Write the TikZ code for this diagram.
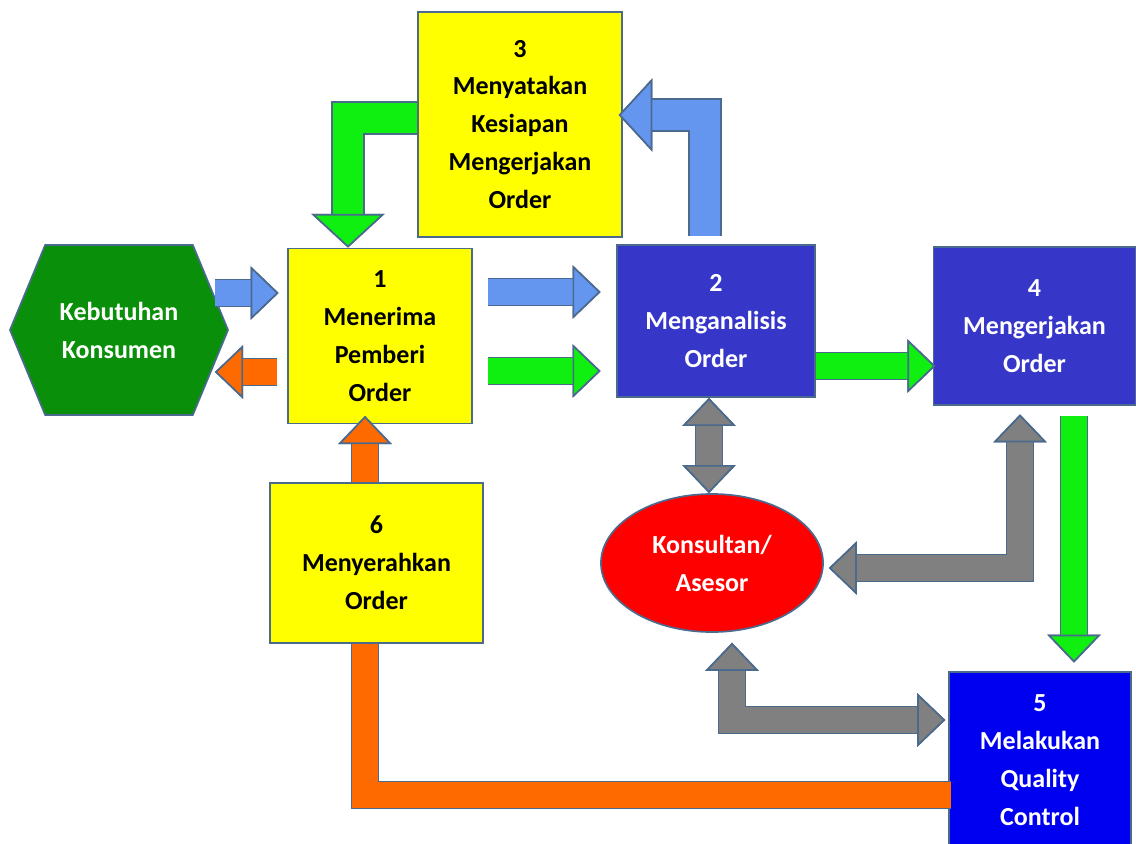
\documentclass[tikz,border=0pt]{standalone}
\usepackage{fontspec}
\setmainfont{Carlito}
\usetikzlibrary{arrows.meta,shapes.symbols,shapes.geometric}
\definecolor{rim}{HTML}{4A6A8E}
\definecolor{boxyellow}{HTML}{FFFF00}
\definecolor{hexgreen}{HTML}{0A8F0A}
\definecolor{darkblue}{HTML}{3636C8}
\definecolor{brightblue}{HTML}{0000F0}
\definecolor{arrblue}{HTML}{6496F0}
\definecolor{arrgreen}{HTML}{10F010}
\definecolor{arrgray}{HTML}{808080}
\definecolor{arrorange}{HTML}{FF6A00}
\tikzset{
  box/.style={draw=rim, line width=1.2pt, align=center, inner sep=0pt,
    font=\fontsize{18.5}{27}\selectfont\bfseries},
  yellowbox/.style={box, fill=boxyellow, text=black},
  bluebox/.style={box, fill=#1, text=white},
  pipe/.style={draw=#1, line width=18pt, line join=miter,
    arrows={-Triangle[length=20pt,width=38pt,line width=1.2pt,color=rim,fill=#1]},
    preaction={draw=rim, line width=20.4pt,
      arrows={-Triangle[length=20pt,width=38pt,line width=1.2pt]}}},
  pipeboth/.style={draw=#1, line width=18pt, line join=miter,
    arrows={Triangle[length=20pt,width=38pt,line width=1.2pt,color=rim,fill=#1]-Triangle[length=20pt,width=38pt,line width=1.2pt,color=rim,fill=#1]},
    preaction={draw=rim, line width=20.4pt,
      arrows={Triangle[length=20pt,width=38pt,line width=1.2pt]-Triangle[length=20pt,width=38pt,line width=1.2pt]}}},
  widepipe/.style={draw=#1, line width=22pt, line join=miter,
    arrows={-Triangle[length=24pt,width=52pt,line width=1.2pt,color=rim,fill=#1]},
    preaction={draw=rim, line width=24.4pt,
      arrows={-Triangle[length=24pt,width=52pt,line width=1.2pt]}}}
}

\begin{document}
\begin{tikzpicture}[x=0.025cm, y=-0.025cm]
  \useasboundingbox (0,0) rectangle (1136,843);
  \fill[white] (0,0) rectangle (1136,843);

  \node[box, signal, signal to=west and east, signal pointer angle=135, fill=hexgreen, text=white,
        minimum width=5.45cm, minimum height=4.25cm] (kons) at (119,330) {Kebutuhan\\Konsumen};
  \node[yellowbox, minimum width=4.6cm, minimum height=4.375cm] (b1) at (380,336)
       {1\\\textcolor{black}{M}enerima\\Pemberi\\Order};
  \node[yellowbox, minimum width=5.1cm, minimum height=5.625cm] (b3) at (520,124.5)
       {3\\\textcolor{black}{M}enyatakan\\Kesiapan\\Mengerjakan\\Order};
  \node[bluebox=darkblue, minimum width=4.95cm, minimum height=3.8cm] (b2) at (716,321)
       {2\\Menganalisis\\Order};
  \node[bluebox=darkblue, minimum width=5.05cm, minimum height=3.95cm] (b4) at (1034.5,326)
       {4\\Mengerjakan\\Order};
  \node[bluebox=brightblue, minimum width=4.55cm, minimum height=4.4cm] (b5) at (1040,760)
       {5\\Melakukan\\Quality\\Control};
  \node[box, ellipse, fill=red, text=white, minimum width=5.55cm, minimum height=3.45cm] (kon) at (712,563)
       {Konsultan/\\Asesor};

  \draw[pipe=arrblue, shorten <=-10pt, shorten >=6pt] (kons.east |- 0,293) -- (b1.west |- 0,293);
  \draw[pipe=arrorange, shorten <=7pt, shorten >=-10pt] (b1.west |- 0,372) -- (kons.east |- 0,372);
  \draw[pipe=arrblue, shorten <=11pt, shorten >=11pt] (b1.east |- 0,292) -- (b2.west |- 0,292);
  \draw[pipe=arrgreen, shorten <=11pt, shorten >=11pt] (b1.east |- 0,371) -- (b2.west |- 0,371);
  \draw[pipe=arrgreen, shorten >=-2pt] (b2.east |- 0,366) -- (b4.west |- 0,366);
  \draw[pipe=arrgreen, shorten <=7pt, shorten >=6pt] (1074,0 |- b4.south) -- (1074,0 |- b5.north);
  \draw[widepipe=arrgreen] (b3.west |- 0,118) -| (348,0 |- b1.north);
  \draw[widepipe=arrblue, shorten <=6pt, shorten >=-3pt] (705,0 |- b2.north) |- (b3.east |- 0,115);
  \draw[pipeboth=arrgray] (709,0 |- b2.south) -- (709,0 |- kon.north);
  \draw[pipeboth=arrgray, shorten <=6pt, shorten >=3.5pt] (1020,0 |- b4.south) |- (kon.east |- 0,568);
  \draw[pipeboth=arrgray, shorten <=7pt, shorten >=2pt] (732,0 |- kon.south) |- (b5.west |- 0,720);
  \draw[pipe=arrorange, shorten <=-2pt, shorten >=-6pt] (b5.west |- 0,795) -| (365,0 |- b1.south);

  \node[yellowbox, minimum width=5.325cm, minimum height=4cm] (b6) at (376.5,563)
       {6\\\textcolor{black}{M}enyerahkan\\Order};
\end{tikzpicture}
\end{document}
